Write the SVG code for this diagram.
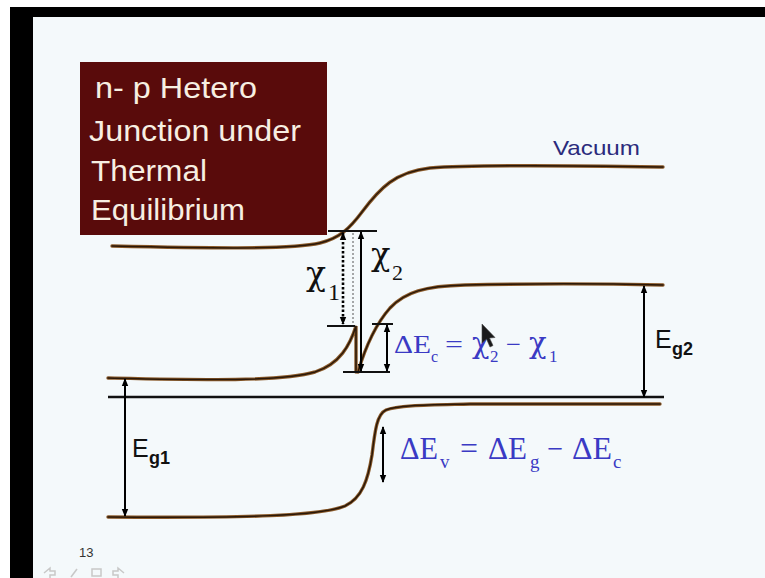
<svg xmlns="http://www.w3.org/2000/svg" xmlns:xlink="http://www.w3.org/1999/xlink" width="765" height="578" viewBox="0 0 765 578">
<style>
.band-o{fill:none;stroke:#8a5a2a;stroke-width:3.4;stroke-linecap:round}
.band-i{fill:none;stroke:#2a1808;stroke-width:1.5;stroke-linecap:round}
.arr{stroke:#000;stroke-width:2;fill:none}
.tick{stroke:#111;stroke-width:2}
.title{font-family:"Liberation Sans",Arial,sans-serif;font-size:29px;fill:#f7efe2}
.eq{font-family:"Liberation Serif","Times New Roman",serif;fill:#3a3ac4}
.eqchi{font-family:"DejaVu Serif",serif;fill:#3a3ac4}
.lbl{font-family:"Liberation Sans",Arial,sans-serif;fill:#111}
.chi{font-family:"DejaVu Serif",serif;fill:#111}
.num{font-family:"Liberation Serif","Times New Roman",serif;fill:#111}
</style>
<defs>
<marker id="ah" viewBox="0 0 8 8" refX="7" refY="4" markerWidth="8" markerHeight="8" markerUnits="userSpaceOnUse" orient="auto-start-reverse"><path d="M0,0.8 L8,4 L0,7.2 z" fill="#000"/></marker>
<path id="p-vac" d="M112,246 C200,248 290,250 320,243 C340,238 350,228 362,212 C380,188 395,172 430,168 C480,164 600,166 663,167"/>
<path id="p-cbl" d="M108,378 C200,380 280,382 315,372 C340,364 350,345 356,326 L356,372"/>
<path id="p-cbr" d="M358,372 C366,345 375,325 390,308 C405,292 425,286 465,285 C550,283 620,284 663,285"/>
<path id="p-vb" d="M108,517 C250,518 320,516 345,506 C362,498 368,480 372,455 C375,430 377,414 386,410 C398,405 430,405 470,404 L660,404"/>
</defs>

<g id="frame">
<rect width="765" height="578" fill="#ffffff"/>
<rect x="10" y="7" width="755" height="571" fill="#000"/>
<rect x="33" y="17" width="732" height="561" fill="#f4f9fb"/>
</g>

<g id="title">
<rect x="80" y="62" width="247" height="173" fill="#590b0b"/>
<text class="title" x="95" y="98" textLength="162" lengthAdjust="spacingAndGlyphs">n- p Hetero</text>
<text class="title" x="89" y="141" textLength="212" lengthAdjust="spacingAndGlyphs">Junction under</text>
<text class="title" x="91" y="181" textLength="116" lengthAdjust="spacingAndGlyphs">Thermal</text>
<text class="title" x="91" y="220" textLength="154" lengthAdjust="spacingAndGlyphs">Equilibrium</text>
</g>

<g id="vacuum-level">
<use xlink:href="#p-vac" class="band-o"/>
<use xlink:href="#p-vac" class="band-i"/>
<text x="553" y="155" font-family="Liberation Sans, Arial, sans-serif" font-size="21" fill="#2b2b7c" textLength="87" lengthAdjust="spacingAndGlyphs">Vacuum</text>
</g>

<g id="conduction-band-n">
<use xlink:href="#p-cbl" class="band-o"/>
<use xlink:href="#p-cbl" class="band-i"/>
</g>
<g id="conduction-band-p">
<use xlink:href="#p-cbr" class="band-o"/>
<use xlink:href="#p-cbr" class="band-i"/>
</g>
<g id="valence-band">
<use xlink:href="#p-vb" class="band-o"/>
<use xlink:href="#p-vb" class="band-i"/>
</g>
<g id="fermi-level">
<line x1="108" y1="397" x2="664" y2="397" stroke="#111" stroke-width="2.6"/>
</g>

<g id="connectors">
<line class="tick" x1="328" y1="231" x2="377" y2="231"/>
<line class="tick" x1="327" y1="326" x2="355" y2="326"/>
<line class="tick" x1="372" y1="324" x2="393" y2="324"/>
<line class="tick" x1="343" y1="372" x2="390" y2="372"/>
<line x1="343" y1="233" x2="343" y2="324" stroke="#000" stroke-width="2.6" stroke-dasharray="2.5 2" marker-start="url(#ah)" marker-end="url(#ah)"/>
<line x1="353" y1="233" x2="353" y2="325" stroke="#555" stroke-width="1" stroke-dasharray="2 2"/>
<line class="arr" x1="361" y1="232" x2="361" y2="371" marker-start="url(#ah)" marker-end="url(#ah)"/>
<line class="arr" x1="387" y1="325" x2="387" y2="371" marker-start="url(#ah)" marker-end="url(#ah)"/>
<line class="arr" x1="644" y1="286" x2="644" y2="397" marker-start="url(#ah)" marker-end="url(#ah)"/>
<line class="arr" x1="125" y1="379" x2="125" y2="516" marker-start="url(#ah)" marker-end="url(#ah)"/>
<line class="arr" x1="383" y1="427" x2="383" y2="482" marker-start="url(#ah)" marker-end="url(#ah)"/>
</g>

<g id="labels">
<text class="chi" x="306" y="285" font-size="33">χ</text>
<text class="num" x="328" y="300" font-size="24">1</text>
<text class="chi" x="371" y="265" font-size="32">χ</text>
<text class="num" x="392" y="280" font-size="22">2</text>

<text class="lbl" x="655" y="348" font-size="25">E</text>
<text class="lbl" x="672" y="355" font-size="18" font-weight="bold">g2</text>
<text class="lbl" x="132" y="457" font-size="25">E</text>
<text class="lbl" x="149" y="464" font-size="18" font-weight="bold">g1</text>

<text class="eq" x="394" y="353" font-size="26" textLength="37" lengthAdjust="spacingAndGlyphs">ΔE</text>
<text class="eq" x="431" y="362" font-size="16">c</text>
<text class="eq" x="445" y="353" font-size="26" textLength="18" lengthAdjust="spacingAndGlyphs">=</text>
<text class="eqchi" x="472" y="353" font-size="29">χ</text>
<text class="eq" x="490" y="362" font-size="17">2</text>
<text class="eq" x="506" y="353" font-size="26" textLength="15" lengthAdjust="spacingAndGlyphs">−</text>
<text class="eqchi" x="529" y="353" font-size="29">χ</text>
<text class="eq" x="549" y="362" font-size="17">1</text>

<text class="eq" x="400" y="459" font-size="31" textLength="38" lengthAdjust="spacingAndGlyphs">ΔE</text>
<text class="eq" x="440" y="468" font-size="19">v</text>
<text class="eq" x="460" y="459" font-size="31" textLength="18" lengthAdjust="spacingAndGlyphs">=</text>
<text class="eq" x="488" y="459" font-size="31" textLength="39" lengthAdjust="spacingAndGlyphs">ΔE</text>
<text class="eq" x="530" y="468" font-size="19">g</text>
<text class="eq" x="547" y="459" font-size="31" textLength="16" lengthAdjust="spacingAndGlyphs">−</text>
<text class="eq" x="572" y="459" font-size="31" textLength="40" lengthAdjust="spacingAndGlyphs">ΔE</text>
<text class="eq" x="613" y="468" font-size="19">c</text>

<text x="79" y="557" font-family="Liberation Sans, Arial, sans-serif" font-size="13" fill="#333">13</text>
</g>

<g id="cursor">
<path d="M482,324 L482,343 L486.5,339 L490,347 L493,345.5 L489.5,338 L495,337.5 Z" fill="#1a1a1a" stroke="#444" stroke-width="0.6"/>
</g>

<g id="nav-icons" fill="none" stroke="#c8c8c8" stroke-width="1.5">
<path d="M44,573 L50,568 L50,571 L55,571 L55,575 L50,575 L50,578"/>
<path d="M71,577 L77,569"/>
<rect x="92" y="569" width="9" height="7"/>
<path d="M124,573 L118,568 L118,571 L113,571 L113,575 L118,575 L118,578"/>
</g>
</svg>
